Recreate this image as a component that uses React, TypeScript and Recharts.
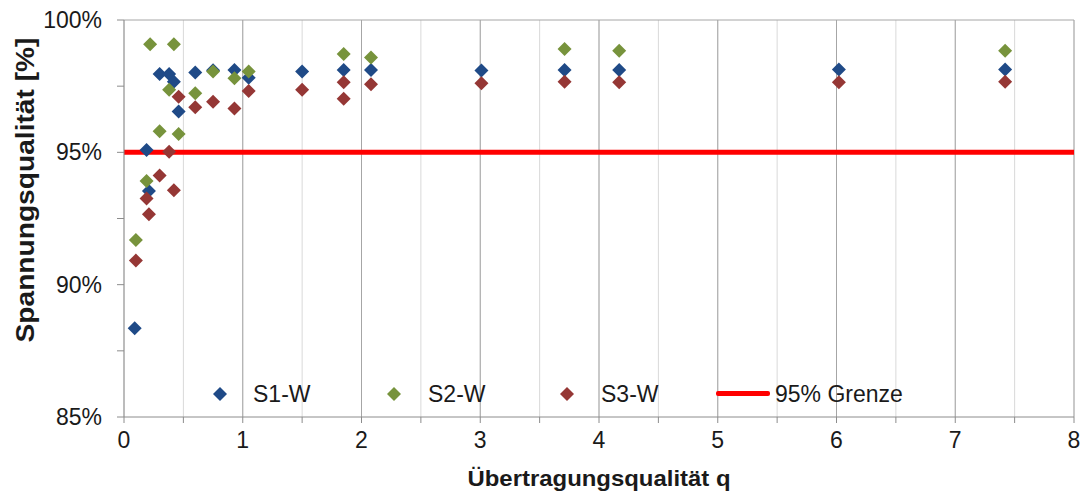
import React from 'react'
import {
  ScatterChart,
  Scatter,
  XAxis,
  YAxis,
  CartesianGrid,
  ReferenceLine,
  Legend,
  Label,
} from 'recharts'

// q value, Spannungsqualität in %
const s1w: [number, number][] = [
  [0.09, 88.35], [0.19, 95.09], [0.21, 93.54], [0.3, 97.96], [0.38, 97.96],
  [0.42, 97.67], [0.46, 96.54], [0.6, 98.02], [0.75, 98.1], [0.93, 98.11],
  [1.05, 97.82], [1.5, 98.05], [1.85, 98.11], [2.08, 98.11], [3.01, 98.09],
  [3.71, 98.11], [4.17, 98.11], [6.02, 98.13], [7.42, 98.13],
]
const s2w: [number, number][] = [
  [0.1, 91.69], [0.19, 93.92], [0.22, 99.08], [0.3, 95.8], [0.38, 97.36],
  [0.42, 99.08], [0.46, 95.69], [0.6, 97.23], [0.75, 98.05], [0.93, 97.8],
  [1.05, 98.05], [1.85, 98.72], [2.08, 98.58], [3.71, 98.9], [4.17, 98.84],
  [7.42, 98.84],
]
const s3w: [number, number][] = [
  [0.1, 90.91], [0.19, 93.26], [0.21, 92.66], [0.3, 94.12], [0.38, 95.02],
  [0.42, 93.57], [0.46, 97.1], [0.6, 96.7], [0.75, 96.91], [0.93, 96.66],
  [1.05, 97.32], [1.5, 97.36], [1.85, 97.65], [1.85, 97.02], [2.08, 97.57],
  [3.01, 97.61], [3.71, 97.67], [4.17, 97.65], [6.02, 97.65], [7.42, 97.67],
]
const limit = 95

const xTicks = [0, 0.5, 1, 1.5, 2, 2.5, 3, 3.5, 4, 4.5, 5, 5.5, 6, 6.5, 7, 7.5, 8]
const xMajor = [1, 2, 3, 4, 5, 6, 7, 8]
const yTicks = [85, 87.5, 90, 92.5, 95, 97.5, 100]

const FONT = '"Liberation Sans", Arial, sans-serif'
const TEXT = '#1a1a1a'
const AXIS = '#8c8c8c'

const series = [
  { name: 'S1-W', color: '#1f4a87', points: s1w },
  { name: 'S2-W', color: '#77933c', points: s2w },
  { name: 'S3-W', color: '#953735', points: s3w },
]

const toRows = (pts: [number, number][]) => pts.map(([x, y]) => ({ x, y }))

const diamond = (color: string, r = 7) => (props: any) => {
  const { cx, cy } = props
  if (cx == null || cy == null) return <g />
  return <path d={`M${cx},${cy - r}L${cx + r},${cy}L${cx},${cy + r}L${cx - r},${cy}Z`} fill={color} />
}

// legend slots, offsets inside the legend box
const legendSlots = [
  { left: 13, gap: 26 },
  { left: 187, gap: 27 },
  { left: 360, gap: 27 },
  { left: 516, gap: 5 },
]

function renderLegend() {
  const items = [
    ...series.map(s => ({ name: s.name, color: s.color, kind: 'diamond' })),
    { name: `${limit}% Grenze`, color: '#ff0000', kind: 'line' },
  ]
  return (
    <div style={{ position: 'relative', width: 720, height: 36, fontFamily: FONT, fontSize: 23, color: TEXT }}>
      {items.map((it, i) => (
        <div
          key={it.name}
          style={{ position: 'absolute', left: legendSlots[i].left, top: 0, height: 36, display: 'flex', alignItems: 'center', whiteSpace: 'nowrap' }}
        >
          {it.kind === 'diamond' ? (
            <svg width={14} height={14}>
              <path d="M7,0L14,7L7,14L0,7Z" fill={it.color} />
            </svg>
          ) : (
            <svg width={54} height={6}>
              <rect x={0} y={0} width={54} height={5} rx={2} fill={it.color} />
            </svg>
          )}
          <span style={{ marginLeft: legendSlots[i].gap }}>{it.name}</span>
        </div>
      ))}
    </div>
  )
}

const XTitle = () => (
  <text x={599} y={486} textAnchor="middle" fontFamily={FONT} fontSize={22} fontWeight="bold" fill={TEXT} textLength={263} lengthAdjust="spacingAndGlyphs">
    Übertragungsqualität q
  </text>
)

const YTitle = () => (
  <text x={0} y={0} transform="translate(34,190) rotate(-90)" textAnchor="middle" fontFamily={FONT} fontSize={26} fontWeight="bold" fill={TEXT} textLength={305} lengthAdjust="spacingAndGlyphs">
    Spannungsqualität [%]
  </text>
)

export default function App() {
  return (
    <div style={{ position: 'absolute', left: 0, top: 0, width: 1084, height: 493, background: '#fff' }}>
      <ScatterChart width={1084} height={493} margin={{ top: 20, right: 10, bottom: 0, left: 0 }}>
        <CartesianGrid horizontal={false} stroke="#d9d9d9" />
        {xMajor.map(v => (
          <ReferenceLine key={v} x={v} stroke="#a6a6a6" />
        ))}
        <ReferenceLine y={100} stroke="#a6a6a6" />
        <ReferenceLine y={limit} stroke="#ff0000" strokeWidth={5} />
        <XAxis
          type="number"
          dataKey="x"
          domain={[0, 8]}
          ticks={xTicks}
          interval={0}
          tickFormatter={(v: number) => (Number.isInteger(v) ? String(v) : '')}
          height={76}
          stroke={AXIS}
          tickSize={6}
          tickMargin={9}
          tick={{ fill: TEXT, fontSize: 23, fontFamily: FONT }}
        >
          <Label content={XTitle} />
        </XAxis>
        <YAxis
          type="number"
          dataKey="y"
          domain={[85, 100]}
          ticks={yTicks}
          interval={0}
          tickFormatter={(v: number) => (v % 5 === 0 ? `${v}%` : '')}
          width={124}
          stroke={AXIS}
          tickSize={7}
          tickMargin={15}
          tick={{ fill: TEXT, fontSize: 23, fontFamily: FONT }}
        >
          <Label content={YTitle} />
        </YAxis>
        <Legend
          layout="horizontal"
          verticalAlign="middle"
          content={renderLegend}
          wrapperStyle={{ left: 200, top: 376, width: 720, height: 36 }}
        />
        {series.map(s => (
          <Scatter
            key={s.name}
            name={s.name}
            data={toRows(s.points)}
            fill={s.color}
            shape={diamond(s.color)}
            isAnimationActive={false}
          />
        ))}
      </ScatterChart>
    </div>
  )
}
